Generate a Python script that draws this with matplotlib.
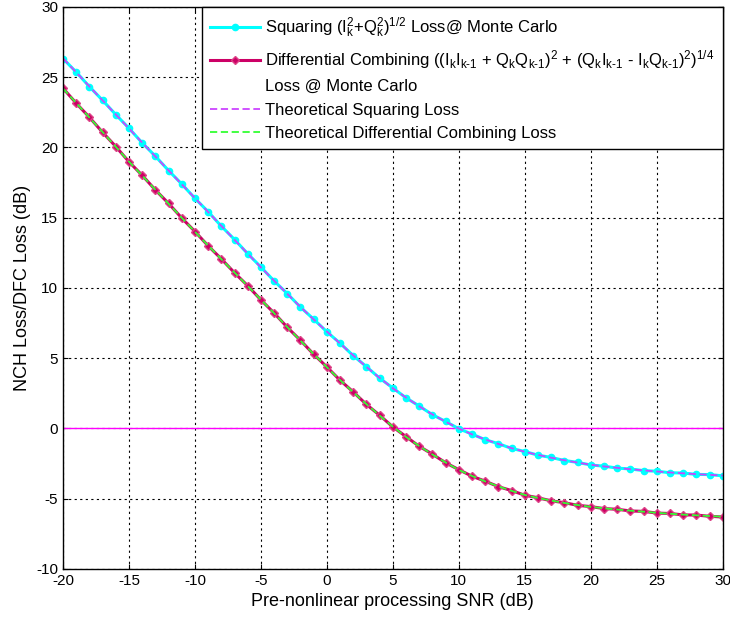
import matplotlib.pyplot as plt
from matplotlib.lines import Line2D

# SNR axis, 1 dB steps
snr = list(range(-20, 31))

# theoretical squaring loss (dB)
sq_theory = [26.35, 25.35, 24.35, 23.35, 22.35, 21.35, 20.35, 19.36, 18.37, 17.38,
             16.40, 15.41, 14.42, 13.43, 12.45, 11.47, 10.52, 9.58, 8.65, 7.76,
             6.90, 6.05, 5.20, 4.38, 3.60, 2.86, 2.20, 1.58, 1.00, 0.48,
             0.00, -0.42, -0.78, -1.10, -1.40, -1.66, -1.88, -2.08, -2.26, -2.43,
             -2.58, -2.70, -2.80, -2.90, -2.98, -3.06, -3.13, -3.19, -3.25, -3.30,
             -3.35]
# monte carlo squaring loss
sq_mc = [26.33, 25.37, 24.33, 23.36, 22.34, 21.37, 20.33, 19.38, 18.36, 17.40,
         16.38, 15.43, 14.40, 13.45, 12.44, 11.49, 10.50, 9.60, 8.63, 7.78,
         6.88, 6.07, 5.18, 4.40, 3.58, 2.88, 2.18, 1.60, 0.98, 0.50,
         -0.02, -0.40, -0.80, -1.08, -1.42, -1.64, -1.90, -2.06, -2.28, -2.41,
         -2.60, -2.68, -2.82, -2.88, -3.00, -3.04, -3.15, -3.17, -3.27, -3.28,
         -3.37]

# theoretical differential combining loss (dB)
dc_theory = [24.20, 23.17, 22.13, 21.10, 20.05, 19.00, 18.00, 17.00, 16.00, 15.00,
             14.00, 13.02, 12.05, 11.10, 10.14, 9.17, 8.20, 7.22, 6.25, 5.30,
             4.36, 3.45, 2.58, 1.73, 0.92, 0.13, -0.60, -1.25, -1.85, -2.42,
             -2.95, -3.38, -3.77, -4.12, -4.44, -4.73, -4.95, -5.13, -5.30, -5.45,
             -5.58, -5.68, -5.77, -5.85, -5.92, -6.00, -6.07, -6.13, -6.18, -6.23,
             -6.28]
# monte carlo differential combining loss
dc_mc = [24.22, 23.15, 22.15, 21.08, 20.07, 18.98, 18.02, 16.98, 16.02, 14.98,
         14.02, 13.00, 12.07, 11.08, 10.16, 9.15, 8.22, 7.20, 6.27, 5.28,
         4.38, 3.43, 2.60, 1.71, 0.94, 0.11, -0.58, -1.27, -1.83, -2.44,
         -2.93, -3.40, -3.75, -4.14, -4.42, -4.75, -4.93, -5.15, -5.28, -5.47,
         -5.56, -5.70, -5.75, -5.87, -5.90, -6.02, -6.05, -6.15, -6.16, -6.25,
         -6.30]

plt.rcParams['font.family'] = ['Liberation Sans', 'DejaVu Sans']
plt.rcParams['mathtext.fontset'] = 'custom'
plt.rcParams['mathtext.rm'] = 'Liberation Sans'
plt.rcParams['mathtext.it'] = 'Liberation Sans'
plt.rcParams['mathtext.default'] = 'regular'
plt.rcParams['axes.unicode_minus'] = False

fig = plt.figure(figsize=(7.3, 6.19), dpi=100)
ax = fig.add_axes([0.0863, 0.0808, 0.9037, 0.9079])

ax.axhline(0, color='#ff00ff', linewidth=1)

l1, = ax.plot(snr, sq_mc, color='#00ffff', linewidth=2.2, marker='o', markersize=4.5)
l2, = ax.plot(snr, dc_mc, color='#cc0066', linewidth=2.2, marker='D', markersize=4,
              markeredgecolor='#dd4488')
l3, = ax.plot(snr, sq_theory, color='#cc44ff', linewidth=1.3, linestyle=(0, (4, 2)))
l4, = ax.plot(snr, dc_theory, color='#33ff33', linewidth=1.3, linestyle=(0, (4, 2)))

ax.set_xlim(-20, 30)
ax.set_ylim(-10, 30)
ax.set_xticks(range(-20, 31, 5))
ax.set_yticks(range(-10, 31, 5))
ax.grid(True, color='black', linestyle=(0, (2, 3)), linewidth=0.8)
ax.tick_params(direction='in', top=True, right=True, labelsize=11)
for s in ax.spines.values():
    s.set_linewidth(1)

ax.set_xlabel('Pre-nonlinear processing SNR (dB)', fontsize=13)
ax.set_ylabel('NCH Loss/DFC Loss (dB)', fontsize=13)

blank = Line2D([], [], color='none')
labels = [
    r'Squaring $(I_k^2$+$Q_k^2)^{1/2}$ Loss@ Monte Carlo',
    r'Differential Combining $((I_kI_{\text{k-1}}$ + $Q_kQ_{\text{k-1}})^2$ + '
    r'$(Q_kI_{\text{k-1}}$ - $I_kQ_{\text{k-1}})^2)^{1/4}$',
    'Loss @ Monte Carlo',
    'Theoretical Squaring Loss',
    'Theoretical Differential Combining Loss',
]
leg = ax.legend([l1, l2, blank, l3, l4], labels, loc='upper right',
                bbox_to_anchor=(1, 1), borderaxespad=0, fancybox=False,
                framealpha=1, edgecolor='black', fontsize=12,
                handlelength=3, handletextpad=0.3, labelspacing=0.5,
                borderpad=0.5)
leg.get_frame().set_linewidth(1)

fig.savefig('out.png', dpi=100)
